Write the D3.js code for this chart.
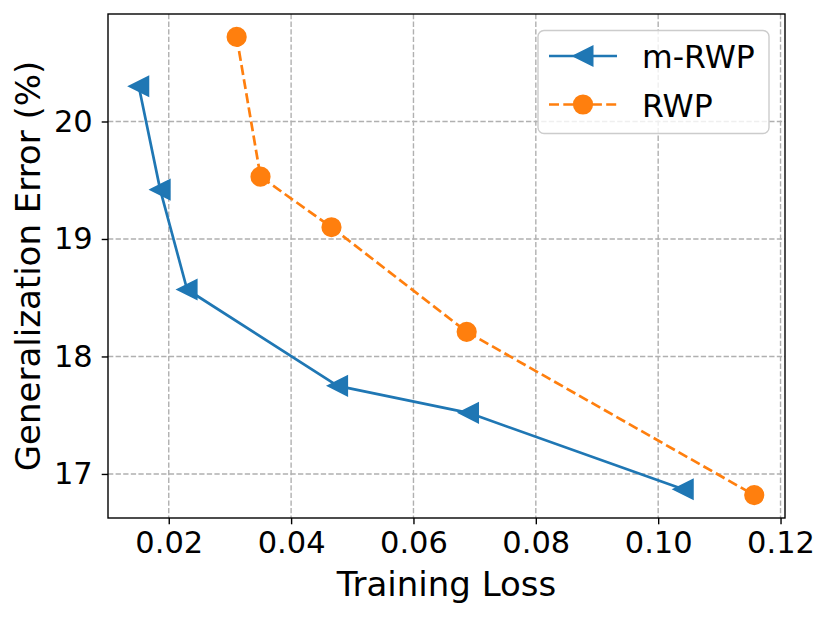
<!DOCTYPE html>
<html><head><meta charset="utf-8">
<script src="https://cdn.jsdelivr.net/npm/d3@7"></script>
<style>body{margin:0;background:#fff}svg{display:block}text{font-family:"DejaVu Sans",sans-serif;fill:#000}</style>
</head><body>
<svg id="c" width="830" height="617"></svg>
<script>
const seriesNames = ["m-RWP", "RWP"];
const mrwpLoss = [0.0151, 0.0186, 0.0230, 0.0476, 0.0690, 0.1041];
const mrwpErr  = [20.30, 19.42, 18.57, 17.75, 17.52, 16.87];
const rwpLoss  = [0.0311, 0.0350, 0.0466, 0.0687, 0.1157];
const rwpErr   = [20.72, 19.53, 19.10, 18.21, 16.82];
const xTicks = [0.02, 0.04, 0.06, 0.08, 0.10, 0.12];
const yTicks = [17, 18, 19, 20];
const colors = ["#1f77b4", "#ff7f0e"];

const svg = d3.select("#c");
const L = 108, R = 785, T = 14, B = 518;

const allX = mrwpLoss.concat(rwpLoss), allY = mrwpErr.concat(rwpErr);
const [x0, x1] = d3.extent(allX), [y0, y1] = d3.extent(allY);
const mx = (x1 - x0) * 0.05, my = (y1 - y0) * 0.05;
const x = d3.scaleLinear().domain([x0 - mx, x1 + mx]).range([L, R]);
const y = d3.scaleLinear().domain([y0 - my, y1 + my]).range([B, T]);

// grid
const g = svg.append("g");
g.selectAll(".gx").data(xTicks).join("line")
  .attr("x1", d => x(d)).attr("x2", d => x(d)).attr("y1", T).attr("y2", B)
  .attr("stroke", "#b0b0b0").attr("stroke-width", 1.4).attr("stroke-dasharray", "5.3,2.3");
g.selectAll(".gy").data(yTicks).join("line")
  .attr("x1", L).attr("x2", R).attr("y1", d => y(d)).attr("y2", d => y(d))
  .attr("stroke", "#b0b0b0").attr("stroke-width", 1.4).attr("stroke-dasharray", "5.3,2.3");

// axes
const xAxis = svg.append("g").attr("transform", `translate(0,${B})`)
  .call(d3.axisBottom(x).tickValues(xTicks).tickFormat(d3.format(".2f")).tickSizeInner(6.3).tickSizeOuter(0).tickPadding(7.5));
const yAxis = svg.append("g").attr("transform", `translate(${L},0)`)
  .call(d3.axisLeft(y).tickValues(yTicks).tickFormat(d3.format("d")).tickSizeInner(6.3).tickSizeOuter(0).tickPadding(9));
[xAxis, yAxis].forEach(a => {
  a.select(".domain").remove();
  a.selectAll(".tick line").attr("stroke", "#000").attr("stroke-width", 1.4);
  a.selectAll(".tick text").attr("font-size", 30.5).attr("font-family", "DejaVu Sans").attr("fill", "#000");
});

// frame
svg.append("rect").attr("x", L).attr("y", T).attr("width", R - L).attr("height", B - T)
  .attr("fill", "none").attr("stroke", "#000").attr("stroke-width", 1.4);

// lines
const line = d3.line().x(d => x(d[0])).y(d => y(d[1]));
const mData = mrwpLoss.map((v, i) => [v, mrwpErr[i]]);
const rData = rwpLoss.map((v, i) => [v, rwpErr[i]]);

const tri = s => `M${-s},0L${s},${-s}L${s},${s}Z`;

svg.append("path").datum(mData).attr("d", line).attr("fill", "none")
  .attr("stroke", colors[0]).attr("stroke-width", 2.7).attr("stroke-linejoin", "round");
svg.append("path").datum(rData).attr("d", line).attr("fill", "none")
  .attr("stroke", colors[1]).attr("stroke-width", 2.7).attr("stroke-dasharray", "10,4.3");

svg.selectAll(".mt").data(mData).join("path")
  .attr("transform", d => `translate(${x(d[0])},${y(d[1])})`)
  .attr("d", tri(9.6)).attr("fill", colors[0]).attr("stroke", colors[0]).attr("stroke-width", 1.8);
svg.selectAll(".rc").data(rData).join("circle")
  .attr("cx", d => x(d[0])).attr("cy", d => y(d[1])).attr("r", 9.2)
  .attr("fill", colors[1]).attr("stroke", colors[1]).attr("stroke-width", 1.8);

// axis labels
svg.append("text").attr("x", (L + R) / 2).attr("y", 596).attr("text-anchor", "middle")
  .attr("font-size", 34).text("Training Loss");
svg.append("text").attr("transform", `translate(40,${(T + B) / 2}) rotate(-90)`).attr("text-anchor", "middle")
  .attr("font-size", 34).text("Generalization Error (%)");

// legend
const lg = svg.append("g");
lg.append("rect").attr("x", 538).attr("y", 30.5).attr("width", 231).attr("height", 103).attr("rx", 6)
  .attr("fill", "#fff").attr("fill-opacity", 0.8).attr("stroke", "#cccccc").attr("stroke-width", 1.4);
const rows = [56, 104.5];
lg.append("line").attr("x1", 549).attr("x2", 617).attr("y1", rows[0]).attr("y2", rows[0])
  .attr("stroke", colors[0]).attr("stroke-width", 2.7);
lg.append("path").attr("transform", `translate(583,${rows[0]})`).attr("d", tri(9.6))
  .attr("fill", colors[0]).attr("stroke", colors[0]).attr("stroke-width", 1.8);
lg.append("line").attr("x1", 549).attr("x2", 617).attr("y1", rows[1]).attr("y2", rows[1])
  .attr("stroke", colors[1]).attr("stroke-width", 2.7).attr("stroke-dasharray", "10,4.3");
lg.append("circle").attr("cx", 583).attr("cy", rows[1]).attr("r", 9.2)
  .attr("fill", colors[1]).attr("stroke", colors[1]).attr("stroke-width", 1.8);
lg.selectAll(".lt").data(seriesNames).join("text")
  .attr("x", 642).attr("y", (d, i) => rows[i] + 12).attr("font-size", 31.5).text(d => d);
</script>
</body></html>
